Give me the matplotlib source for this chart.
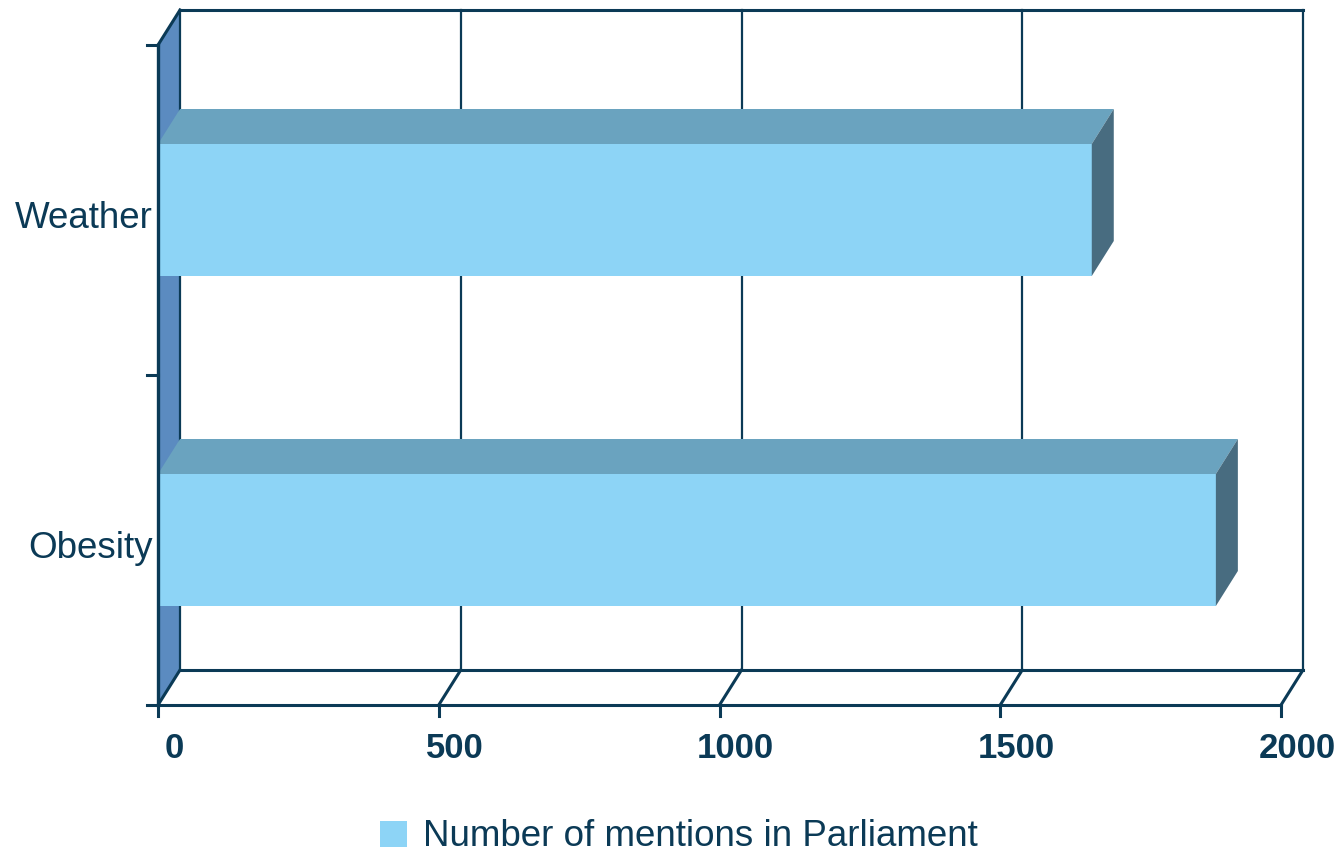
import matplotlib.pyplot as plt
from matplotlib.patches import Polygon, Rectangle, Patch

# mentions in Parliament per topic
categories = ['Obesity', 'Weather']
mentions = [1884, 1663]
xticks = [0, 500, 1000, 1500, 2000]

front_col = '#8DD4F6'
top_col = '#6AA3BF'
side_col = '#486C80'
wall_col = '#5B8BC0'
ink = '#0B3A56'

plt.rcParams['font.family'] = ['Liberation Sans', 'DejaVu Sans']

fig = plt.figure(figsize=(13.43, 8.57), dpi=100)
ax = fig.add_axes([0, 0, 1, 1])
ax.axis('off')

# one pixel in data units
upx = 2000 / 1123
vpx = 1 / 330
ax.set_xlim(-158 * upx, (1343 - 158) * upx)
ax.set_ylim(-(857 - 705) * vpx, 705 * vpx)

# depth offset of the fake 3d box
dx = 22 * upx
dy = 35 * vpx
ytop = len(categories)
xmax = xticks[-1]

# back wall grid and frame
for v in xticks:
    ax.plot([v + dx, v + dx], [dy, ytop + dy], color=ink, lw=1.6, zorder=1)
ax.plot([dx, xmax + dx], [ytop + dy, ytop + dy], color=ink, lw=2.2, zorder=1)
ax.plot([dx, xmax + dx], [dy, dy], color=ink, lw=2.2, zorder=1)

# floor
ax.plot([0, xmax], [0, 0], color=ink, lw=2.2, zorder=1)
for v in xticks:
    ax.plot([v, v + dx], [0, dy], color=ink, lw=2.2, zorder=1)
    ax.plot([v, v], [0, -11 * vpx], color=ink, lw=2.2, zorder=1)
    ax.text(v + 16 * upx, -44 * vpx, str(v), ha='center', va='center',
            fontsize=25, fontweight='bold', color=ink)

# left wall
ax.add_patch(Polygon([(0, 0), (dx, dy), (dx, ytop + dy), (0, ytop)],
                     closed=True, fc=wall_col, ec='none', zorder=0.5))
ax.plot([0, dx], [ytop, ytop + dy], color=ink, lw=2.2, zorder=1)

# bars
h = 0.4
for i, v in enumerate(mentions):
    c = i + 0.5
    y0, y1 = c - h / 2, c + h / 2
    ax.add_patch(Rectangle((0, y0), v, h, fc=front_col, ec='none', zorder=3))
    ax.add_patch(Polygon([(0, y1), (v, y1), (v + dx, y1 + dy), (dx, y1 + dy)],
                         closed=True, fc=top_col, ec='none', zorder=3))
    ax.add_patch(Polygon([(v, y0), (v + dx, y0 + dy), (v + dx, y1 + dy), (v, y1)],
                         closed=True, fc=side_col, ec='none', zorder=3))
    ax.text(-5 * upx, c - 8 * vpx, categories[i], ha='right', va='center',
            fontsize=26.5, color=ink)

# front value axis line and ticks
ax.plot([0, 0], [0, ytop], color=ink, lw=2.4, zorder=4)
for k in range(ytop + 1):
    ax.plot([-11 * upx, 0], [k, k], color=ink, lw=2.2, zorder=4)

leg = fig.legend(handles=[Patch(fc=front_col, ec='none',
                                label='Number of mentions in Parliament')],
                 loc='center', bbox_to_anchor=(679 / 1343, 1 - 837 / 857),
                 frameon=False, fontsize=26.5, handlelength=0.72,
                 handleheight=0.72, handletextpad=0.45)
for t in leg.get_texts():
    t.set_color(ink)

plt.savefig('out.png', dpi=100)
